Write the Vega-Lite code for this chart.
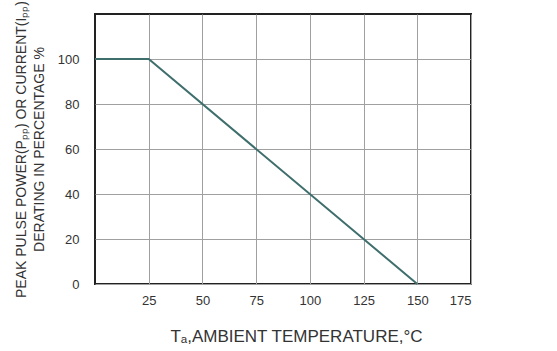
{
  "$schema": "https://vega.github.io/schema/vega-lite/v6.json",
  "width": 376,
  "height": 270,
  "autosize": "none",
  "padding": {"left": 95, "top": 14, "right": 86, "bottom": 67},
  "background": "white",
  "config": {
    "view": {"stroke": "#222222", "strokeWidth": 2},
    "axis": {"labelFont": "Liberation Sans", "titleFont": "Liberation Sans", "labelColor": "#333333", "titleColor": "#333333", "labelFontSize": 13, "titleFontWeight": "normal", "gridColor": "#a0a0a0", "gridWidth": 1, "ticks": false, "domain": false}
  },
  "data": {"values": [
    {"t": 0, "p": 100},
    {"t": 25, "p": 100},
    {"t": 150, "p": 0}
  ]},
  "mark": {"type": "line", "color": "#3f6f6d", "strokeWidth": 2},
  "encoding": {
    "x": {"field": "t", "type": "quantitative", "scale": {"domain": [0, 175], "nice": false},
      "axis": {"values": [25, 50, 75, 100, 125, 150, 175], "labelPadding": 10, "title": "Tₐ,AMBIENT TEMPERATURE,°C", "titleFontSize": 17, "titlePadding": 21, "titleX": 201}},
    "y": {"field": "p", "type": "quantitative", "scale": {"domain": [0, 120], "nice": false},
      "axis": {"values": [0, 20, 40, 60, 80, 100], "labelPadding": 16, "title": ["PEAK PULSE POWER(Pₚₚ) OR CURRENT(Iₚₚ)", "DERATING IN PERCENTAGE %"], "titleFontSize": 14, "titleLineHeight": 18, "titlePadding": 11}}
  }
}
